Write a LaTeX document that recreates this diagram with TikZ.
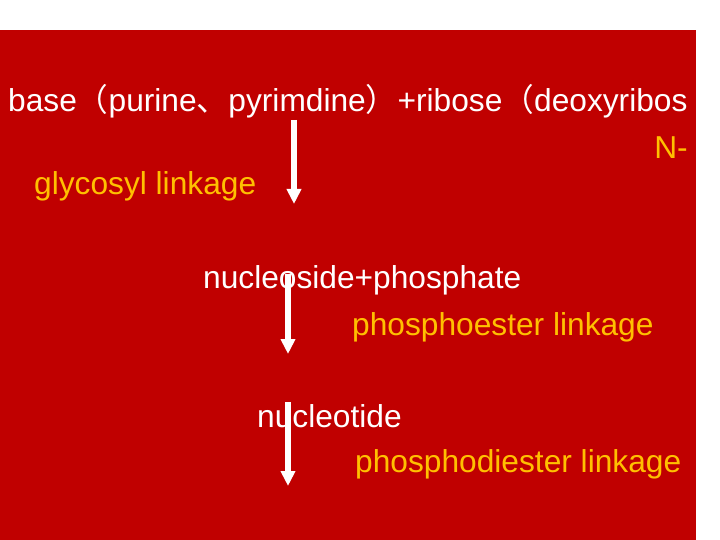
\documentclass[tikz,border=0pt]{standalone}
\usepackage{fontspec}
\setmainfont{Liberation Sans}
\newfontfamily\cjk{Noto Sans CJK SC}
\usepackage{xcolor}
\usetikzlibrary{arrows.meta,positioning}
\definecolor{slidered}{RGB}{192,0,0}
\definecolor{linkgold}{RGB}{255,192,0}

\tikzset{
  term/.style={anchor=base west, inner sep=0pt, text=white, font=\fontsize{31.7}{38}\selectfont},
  bond/.style={term, text=linkgold},
  flow/.style={white, line width=5.5pt, -{Triangle[width=14pt,length=15pt]}}
}

\begin{document}
\begin{tikzpicture}[x=1pt,y=-1pt]
\useasboundingbox (0,0) rectangle (720,540);
\fill[slidered] (0,30) rectangle (696,540);
% reaction steps
\node[term] (base) at (8,112) {base{\cjk （}purine{\cjk 、}pyrimdine{\cjk ）}+ribose{\cjk （}deoxyribos};
\node[bond, anchor=base east] (nbond) at (688,159) {N-};
\node[bond] (glyco) at (34,195) {glycosyl linkage};
\node[term] (nucleoside) at (203,288) {nucleoside+phosphate};
\node[bond] (phos) at (352,335) {phosphoester linkage};
\node[term] (nucleotide) at (257,427) {nucleotide};
\node[bond] (diester) at (355,472) {phosphodiester linkage};
% arrows
\coordinate (a1s) at (294,120);
\coordinate (a1e) at (294,204);
\coordinate (a2s) at (288,274);
\coordinate (a2e) at (288,354);
\coordinate (a3s) at (288,402);
\coordinate (a3e) at (288,486);
\draw[flow] (a1s) -- (a1e);
\draw[flow] (a2s) -- (a2e);
\draw[flow] (a3s) -- (a3e);
\end{tikzpicture}
\end{document}
